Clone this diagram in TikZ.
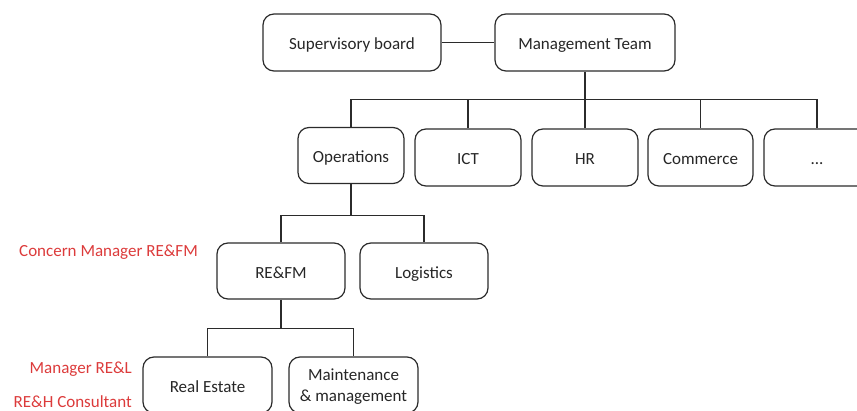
\documentclass[tikz,border=0pt]{standalone}
\usepackage{fontspec}
\setmainfont{Carlito}
\usepackage{tikz}
\usetikzlibrary{positioning,calc}
\definecolor{orgRed}{HTML}{DC3B3B}
\definecolor{orgLine}{HTML}{2B2B2B}
\definecolor{orgText}{HTML}{262626}

\begin{document}
\begin{tikzpicture}[x=1pt,y=-1pt,
    unit/.style={draw=orgLine, line width=1.2pt, rounded corners=11pt, text=orgText,
      font=\fontsize{17}{21}\selectfont, align=center, inner sep=0pt,
      text height=18pt, text depth=3pt},
    role/.style={text=orgRed, font=\fontsize{17}{21}\selectfont, inner sep=0pt,
      text height=18pt, text depth=3pt},
    link/.style={draw=orgLine, line width=1.1pt}]
  \useasboundingbox (0,0) rectangle (857,411);
  \clip (0,0) rectangle (857,411);
  \node[unit, minimum width=178pt, minimum height=57pt] (sup) at (352,42.5) {Supervisory board};
  \node[unit, minimum width=180pt, minimum height=57pt] (mgmt) at (585,42.5) {Management Team};

  \node[unit, minimum width=106pt, minimum height=56pt] (ops) at (351,155.5) {Operations};
  \node[unit, minimum width=106pt, minimum height=57pt] (ict) at (468,157.5) {ICT};
  \node[unit, minimum width=106pt, minimum height=57pt] (hr) at (585,157.5) {HR};
  \node[unit, minimum width=105pt, minimum height=57pt] (com) at (700.5,157.5) {Commerce};
  \node[unit, minimum width=106pt, minimum height=57pt] (more) at (817,157.5) {...};

  \node[unit, minimum width=128pt, minimum height=56pt] (refm) at (281,271) {RE\&FM};
  \node[unit, minimum width=128pt, minimum height=56pt] (log) at (424,271) {Logistics};

  \node[unit, minimum width=129pt, minimum height=56pt] (re) at (207.5,385) {Real Estate};
  \node[unit, minimum width=129pt, minimum height=56pt, text height=37pt, text depth=3pt] (mm)
    at (353.5,385) {Maintenance\\\& management};

  \node[role, anchor=west] (cmgr) at (19,249.5) {Concern Manager RE\&FM};
  \node[role, anchor=east] (mgr) at (132,366) {Manager RE\&L};
  \node[role, anchor=east] (cons) at (132,400.5) {RE\&H Consultant};

  \draw[link] (sup.east) -- (mgmt.west);
  \coordinate (topbus) at ($(mgmt.south)+(0,28)$);
  \draw[link] (mgmt.south) -- (topbus);
  \foreach \n in {ops,ict,hr,com,more} {
    \draw[link] (topbus) -| (\n.north);
  }
  \coordinate (opsbus) at ($(ops.south)+(0,31)$);
  \draw[link] (ops.south) -- (opsbus);
  \foreach \n in {refm,log} {
    \draw[link] (opsbus) -| (\n.north);
  }
  \coordinate (refmbus) at ($(refm.south)+(0,29)$);
  \draw[link] (refm.south) -- (refmbus);
  \foreach \n in {re,mm} {
    \draw[link] (refmbus) -| (\n.north);
  }
\end{tikzpicture}
\end{document}
